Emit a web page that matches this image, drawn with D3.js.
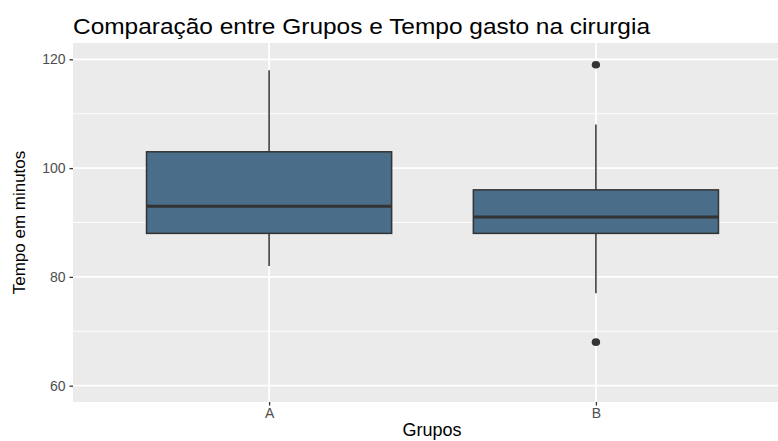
<!DOCTYPE html>
<html>
<head>
<meta charset="utf-8">
<script src="https://cdn.jsdelivr.net/npm/d3@7"></script>
<style>
  body { margin: 0; background: #fff; }
  text { font-family: "Liberation Sans", Arial, sans-serif; }
</style>
</head>
<body>
<div class="chart"></div>
<script>
// values
const groups = ["A", "B"]
const lowerWhisker = [82, 77]
const q1 = [88, 88]
const median = [93, 91]
const q3 = [103, 96]
const upperWhisker = [118, 108]
const outliers = [[], [119, 68]]
const yTicks = [60, 80, 100, 120]
const yMinor = [70, 90, 110]

const W = 778, H = 441
const margin = {top: 43, right: -14, bottom: 39, left: 73},
      width = W - margin.left - margin.right,
      height = H - margin.top - margin.bottom

const svg = d3.select(".chart")
  .append("svg")
    .attr("width", W)
    .attr("height", H)

const g = svg.append("g")
    .attr("transform", `translate(${margin.left},${margin.top})`)

const x = d3.scalePoint()
  .domain(groups)
  .range([0, width])
  .padding(0.6)

const y = d3.scaleLinear()
  .domain([57, 123])
  .range([height, 0])

// panel
g.append("rect")
  .attr("width", width)
  .attr("height", height)
  .attr("fill", "#ebebeb")

// grid
g.selectAll(".minor")
  .data(yMinor)
  .join("line")
    .attr("x1", 0).attr("x2", width)
    .attr("y1", d => y(d)).attr("y2", d => y(d))
    .attr("stroke", "#fff").attr("stroke-width", 0.9)

g.selectAll(".major")
  .data(yTicks)
  .join("line")
    .attr("x1", 0).attr("x2", width)
    .attr("y1", d => y(d)).attr("y2", d => y(d))
    .attr("stroke", "#fff").attr("stroke-width", 1.8)

g.selectAll(".xgrid")
  .data(groups)
  .join("line")
    .attr("x1", d => x(d)).attr("x2", d => x(d))
    .attr("y1", 0).attr("y2", height)
    .attr("stroke", "#fff").attr("stroke-width", 1.8)

// boxes
const boxW = x.step() * 0.75
const stats = groups.map((k, i) => ({
  key: k, lo: lowerWhisker[i], q1: q1[i], med: median[i], q3: q3[i], hi: upperWhisker[i], out: outliers[i]
}))

const box = g.selectAll(".box")
  .data(stats)
  .join("g")

box.append("line")
  .attr("x1", d => x(d.key)).attr("x2", d => x(d.key))
  .attr("y1", d => y(d.hi)).attr("y2", d => y(d.q3))
  .attr("stroke", "#333").attr("stroke-width", 1.5)

box.append("line")
  .attr("x1", d => x(d.key)).attr("x2", d => x(d.key))
  .attr("y1", d => y(d.q1)).attr("y2", d => y(d.lo))
  .attr("stroke", "#333").attr("stroke-width", 1.5)

box.append("rect")
  .attr("x", d => x(d.key) - boxW / 2)
  .attr("width", boxW)
  .attr("y", d => y(d.q3))
  .attr("height", d => y(d.q1) - y(d.q3))
  .attr("fill", "#4a6e8a")
  .attr("stroke", "#333").attr("stroke-width", 1.5)

box.append("line")
  .attr("x1", d => x(d.key) - boxW / 2).attr("x2", d => x(d.key) + boxW / 2)
  .attr("y1", d => y(d.med)).attr("y2", d => y(d.med))
  .attr("stroke", "#333").attr("stroke-width", 3)

box.selectAll("ellipse")
  .data(d => d.out.map(v => ({key: d.key, v: v})))
  .join("ellipse")
    .attr("cx", d => x(d.key))
    .attr("cy", d => y(d.v))
    .attr("rx", 4.2).attr("ry", 3.8)
    .attr("fill", "#333")

// axes
const yAxis = g.append("g")
  .call(d3.axisLeft(y).tickValues(yTicks).tickSize(3.5).tickPadding(4))
yAxis.select(".domain").remove()
yAxis.selectAll(".tick line").attr("stroke", "#333").attr("stroke-width", 1.3)
yAxis.selectAll(".tick text")
  .attr("fill", "#4d4d4d")
  .style("font-size", "14px")
  .style("font-family", "Liberation Sans, Arial, sans-serif")

const xAxis = g.append("g")
  .attr("transform", `translate(0,${height})`)
  .call(d3.axisBottom(x).tickSize(3.5).tickPadding(3))
xAxis.select(".domain").remove()
xAxis.selectAll(".tick line").attr("stroke", "#333").attr("stroke-width", 1.3)
xAxis.selectAll(".tick text")
  .attr("fill", "#4d4d4d")
  .style("font-size", "14px")
  .style("font-family", "Liberation Sans, Arial, sans-serif")

// titles
svg.append("text")
  .attr("x", 73)
  .attr("y", 34)
  .attr("textLength", 577)
  .attr("lengthAdjust", "spacingAndGlyphs")
  .style("font-size", "22px")
  .attr("fill", "#000")
  .text("Comparação entre Grupos e Tempo gasto na cirurgia")

svg.append("text")
  .attr("text-anchor", "middle")
  .attr("x", 432)
  .attr("y", 436)
  .style("font-size", "18px")
  .text("Grupos")

svg.append("text")
  .attr("text-anchor", "middle")
  .attr("transform", `translate(25,${margin.top + height / 2}) rotate(-90)`)
  .style("font-size", "17px")
  .text("Tempo em minutos")
</script>
</body>
</html>
